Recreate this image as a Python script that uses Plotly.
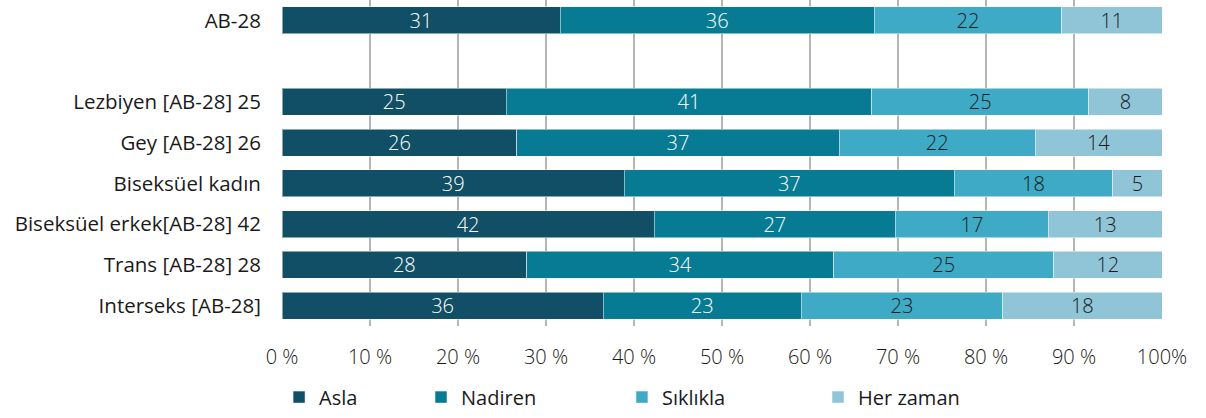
import plotly.graph_objects as go

# Categories (y positions: a blank slot after the first row)
categories = ["AB-28", "Lezbiyen [AB-28] 25", "Gey [AB-28] 26", "Biseksüel kadın",
              "Biseksüel erkek[AB-28] 42", "Trans [AB-28] 28", "Interseks [AB-28]"]
positions = [0, 2, 3, 4, 5, 6, 7]

# Shares (%)
asla = [31.6, 25.5, 26.7, 38.9, 42.3, 27.8, 36.5]
nadiren = [35.7, 41.5, 36.6, 37.5, 27.4, 34.9, 22.5]
siklikla = [21.3, 24.7, 22.3, 18.0, 17.4, 25.0, 22.9]
her_zaman = [11.4, 8.3, 14.4, 5.6, 12.9, 12.3, 18.1]

# Printed labels
asla_lbl = ["31", "25", "26", "39", "42", "28", "36"]
nadiren_lbl = ["36", "41", "37", "37", "27", "34", "23"]
siklikla_lbl = ["22", "25", "22", "18", "17", "25", "23"]
her_zaman_lbl = ["11", "8", "14", "5", "13", "12", "18"]

x_tickvals = [0, 10, 20, 30, 40, 50, 60, 70, 80, 90, 100]
x_ticktext = ["0 %", "10 %", "20 %", "30 %", "40 %", "50 %", "60 %", "70 %", "80 %", "90 %", "100%"]

series = [
    ("Asla", asla, asla_lbl, "#104f66", "white", "legend"),
    ("Nadiren", nadiren, nadiren_lbl, "#077b94", "white", "legend2"),
    ("Sıklıkla", siklikla, siklikla_lbl, "#3eaac5", "#1a1a1a", "legend3"),
    ("Her zaman", her_zaman, her_zaman_lbl, "#8fc5d6", "#1a1a1a", "legend4"),
]

fig = go.Figure()
for name, vals, lbls, color, tcolor, leg in series:
    fig.add_trace(go.Bar(
        name=name, y=positions, x=vals, orientation="h",
        text=lbls, textposition="inside", insidetextanchor="middle",
        textangle=0, constraintext="none",
        textfont=dict(family="Open Sans", size=20, color=tcolor, weight=300),
        marker=dict(color=color, line=dict(color="rgba(255,255,255,0.5)", width=1)),
        width=0.66, legend=leg, hoverinfo="skip",
    ))

leg_common = dict(orientation="h", yanchor="middle", xanchor="left", y=0.05,
                  xref="container", yref="container",
                  font=dict(family="Open Sans", size=20, color="#1a1a1a"),
                  bgcolor="rgba(0,0,0,0)", borderwidth=0)
fig.update_layout(
    barmode="stack",
    width=1206, height=418,
    margin=dict(l=282, r=44, t=0, b=92, autoexpand=False),
    plot_bgcolor="white", paper_bgcolor="white",
    showlegend=True,
    legend=dict(x=0.2314, **leg_common),
    legend2=dict(x=0.3491, **leg_common),
    legend3=dict(x=0.5157, **leg_common),
    legend4=dict(x=0.6783, **leg_common),
    font=dict(family="Open Sans", color="#1a1a1a"),
)
fig.update_xaxes(
    range=[0, 100], tickvals=x_tickvals, ticktext=x_ticktext,
    showgrid=True, gridcolor="#b5b5b5", gridwidth=1.5, zeroline=False,
    ticks="outside", ticklen=13, tickcolor="rgba(0,0,0,0)",
    tickfont=dict(family="Open Sans", size=20, color="#1a1a1a", weight=300),
)
fig.update_yaxes(
    range=[7.5, -0.5], tickvals=positions, ticktext=categories,
    showgrid=False, zeroline=False,
    ticks="outside", ticklen=16, tickcolor="rgba(0,0,0,0)",
    tickfont=dict(family="Open Sans", size=20.5, color="#1a1a1a"),
)

fig.write_html("out.html", config={"displayModeBar": False},
               post_script="document.body.style.margin='0';")
